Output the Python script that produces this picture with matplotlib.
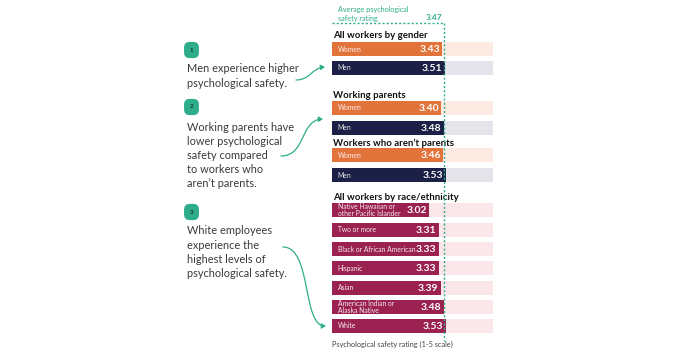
import matplotlib
matplotlib.use("Agg")
import matplotlib.pyplot as plt
from matplotlib.patches import FancyArrowPatch
from matplotlib.path import Path

# ---- data ----
gender_labels = ["Women", "Men"]
gender_values = [3.43, 3.51]
parents_labels = ["Women", "Men"]
parents_values = [3.40, 3.48]
nonparents_labels = ["Women", "Men"]
nonparents_values = [3.46, 3.53]
race_labels = ["Native Hawaiian or\nother Pacific Islander", "Two or more",
               "Black or African American", "Hispanic", "Asian",
               "American Indian or\nAlaska Native", "White"]
race_values = [3.02, 3.31, 3.33, 3.33, 3.39, 3.48, 3.53]
average_value = 3.47
scale_max = 5
section_titles = ["All workers by gender", "Working parents",
                  "Workers who aren\u2019t parents", "All workers by race/ethnicity"]
notes = [
    ["Men experience higher", "psychological safety."],
    ["Working parents have", "lower psychological", "safety compared",
     "to workers who", "aren\u2019t parents."],
    ["White employees", "experience the", "highest levels of",
     "psychological safety."],
]

# ---- style ----
ORANGE = "#E2733B"
NAVY = "#1C1F46"
MAROON = "#9A2150"
BG_ORANGE = "#FCEAE3"
BG_NAVY = "#E4E4EA"
BG_MAROON = "#FBE6E9"
TEAL = "#2EAD8A"
TEXT = "#3A3A3A"
FONT = "Lato"

W, H = 674, 354
fig = plt.figure(figsize=(W / 100, H / 100), dpi=100)
fig.patch.set_facecolor("white")
plt.rcParams["font.family"] = [FONT, "DejaVu Sans"]

ax = fig.add_axes([332 / W, 0, 161 / W, 1])
ax.set_xlim(0, scale_max)
ax.set_ylim(H, 0)
ax.axis("off")

bar_h = 13.5
sections = [
    (gender_labels, gender_values, [49, 68], 36),
    (parents_labels, parents_values, [108, 128], 95),
    (nonparents_labels, nonparents_values, [155, 175], 143),
]

def draw_bar(y, label, val, color, bg):
    ax.barh(y, scale_max, height=bar_h, color=bg, zorder=1)
    ax.barh(y, val, height=bar_h, color=color, zorder=2)
    ax.text(0.18, y, label, color="white", fontsize=4.9, va="center",
            ha="left", zorder=3, linespacing=0.95, alpha=0.9)
    ax.text(val - 0.08, y + 0.3, f"{val:.2f}", color="white", fontsize=7.5,
            fontweight="bold", va="center", ha="right", zorder=3)

for i, (labels, vals, ys, ty) in enumerate(sections):
    ax.text(0.02, ty, section_titles[i], fontsize=6.9, fontweight="bold",
            color="#111111", va="center", ha="left")
    for lab, v, y in zip(labels, vals, ys):
        if lab == "Women":
            draw_bar(y, lab, v, ORANGE, BG_ORANGE)
        else:
            draw_bar(y, lab, v, NAVY, BG_NAVY)

ax.text(0.02, 198, section_titles[3], fontsize=6.9, fontweight="bold",
        color="#111111", va="center", ha="left")
race_ys = [210, 230, 249, 268, 288, 307, 326]
for lab, v, y in zip(race_labels, race_values, race_ys):
    draw_bar(y, lab, v, MAROON, BG_MAROON)

# average line
ax.plot([average_value, average_value], [23, 341], color=TEAL, lw=1,
        ls=(0, (1.5, 1.5)), zorder=4, clip_on=False)
ax.plot([0, average_value], [23, 23], color=TEAL, lw=1,
        ls=(0, (1.5, 1.5)), zorder=4, clip_on=False)
ax.text(0.2, 14, "Average psychological\nsafety rating", fontsize=5.2,
        color=TEAL, va="center", ha="left", linespacing=1.3)
ax.text(average_value - 0.03, 18, f"{average_value:.2f}", fontsize=6,
        color=TEAL, fontweight="bold", va="center", ha="right")
ax.text(0.0, 344, "Psychological safety rating (1-5 scale)", fontsize=5.3,
        color="#444444", va="center", ha="left")

# ---- left annotations (figure pixel coords) ----
def fx(x):
    return x / W

def fy(y):
    return 1 - y / H

badge_ys = [50, 107, 212]
text_starts = [69, 127, 231]
for k, (by, ty, lines) in enumerate(zip(badge_ys, text_starts, notes)):
    fig.text(fx(191.5), fy(by), str(k + 1), fontsize=4.5, color="#0E3B30",
             fontweight="bold", ha="center", va="center",
             bbox=dict(boxstyle="round,pad=0.9,rounding_size=0.9", fc=TEAL, ec="none"))
    for li, line in enumerate(lines):
        fig.text(fx(187), fy(ty + li * 14.2), line, fontsize=7.9, color=TEXT,
                 ha="left", va="center")

arrow_paths = [
    [(296, 80), (310, 80), (312, 68), (325, 67)],
    [(281, 156), (306, 156), (300, 120), (323, 119)],
    [(283, 247), (312, 247), (302, 326), (326, 326)],
]
for pts in arrow_paths:
    verts = [(fx(x), fy(y)) for x, y in pts]
    path = Path(verts, [Path.MOVETO, Path.CURVE4, Path.CURVE4, Path.CURVE4])
    p = FancyArrowPatch(path=path, transform=fig.transFigure,
                        arrowstyle="-|>,head_length=2.5,head_width=1.5",
                        color=TEAL, lw=0.9)
    fig.patches.append(p)

fig.savefig("out.png", dpi=100)
